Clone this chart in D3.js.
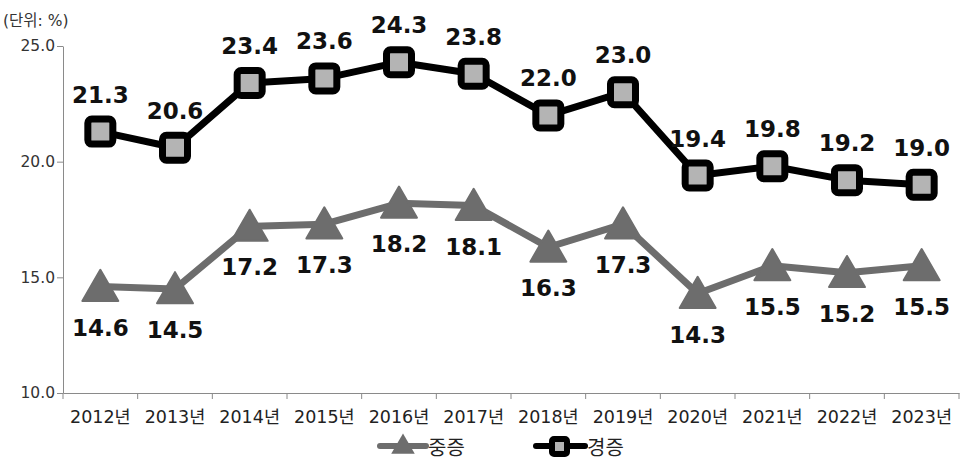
<!DOCTYPE html>
<html><head><meta charset="utf-8">
<script src="https://cdn.jsdelivr.net/npm/d3@7"></script>
<style>body{margin:0;background:#fff}svg{display:block}</style>
</head><body>
<svg id="c" width="961" height="463"></svg>
<script>
const categories = ["2012년","2013년","2014년","2015년","2016년","2017년","2018년","2019년","2020년","2021년","2022년","2023년"];
const severe = [14.6,14.5,17.2,17.3,18.2,18.1,16.3,17.3,14.3,15.5,15.2,15.5];
const mild = [21.3,20.6,23.4,23.6,24.3,23.8,22.0,23.0,19.4,19.8,19.2,19.0];
const yTicks = [10,15,20,25];
const seriesNames = ["중증","경증"];

const svg = d3.select("#c");
const font = "'DejaVu Sans','Noto Sans CJK KR',sans-serif";
const x = d3.scaleBand().domain(categories).range([63,959]);
const y = d3.scaleLinear().domain([10,25]).range([393,46]);
const cx = d => x(d) + x.bandwidth()/2;

// y axis
const ya = svg.append("g").attr("transform","translate(63,0)")
  .call(d3.axisLeft(y).tickValues(yTicks).tickFormat(d3.format(".1f")).tickSize(6).tickSizeOuter(0));
ya.select(".domain").attr("stroke","#8a8a8a");
ya.selectAll(".tick line").attr("stroke","#8a8a8a");
ya.selectAll(".tick text").attr("font-family",font).attr("font-size",15.5).attr("fill","#333").attr("x",-8);

// x axis
const xa = svg.append("g").attr("transform","translate(0,393)")
  .call(d3.axisBottom(x).tickSize(0).tickSizeOuter(0));
xa.select(".domain").attr("stroke","#8a8a8a");
xa.selectAll(".tick text").attr("font-family",font).attr("font-size",17.5).attr("fill","#222").attr("y",30).attr("dy",0);
// boundary ticks
svg.append("g").selectAll("line").data(categories.concat(["end"])).join("line")
  .attr("x1",(d,i)=> i<categories.length ? x(d) : x.range()[1])
  .attr("x2",(d,i)=> i<categories.length ? x(d) : x.range()[1])
  .attr("y1",393).attr("y2",399).attr("stroke","#8a8a8a");

svg.append("text").attr("x",3).attr("y",26).attr("font-family",font).attr("font-size",15.5).attr("fill","#333").text("(단위: %)");

const line = d3.line().x((d,i)=>cx(categories[i])).y(d=>y(d));
const tri = d3.symbol().type(d3.symbolTriangle).size(560);

// severe (gray)
svg.append("path").datum(severe).attr("d",line).attr("fill","none").attr("stroke","#6d6d6d").attr("stroke-width",7).attr("stroke-linejoin","round");
svg.append("g").selectAll("path").data(severe).join("path")
  .attr("d",tri).attr("transform",(d,i)=>`translate(${cx(categories[i])},${y(d)+4})`)
  .attr("fill","#6d6d6d").attr("stroke","#6d6d6d").attr("stroke-width",2).attr("stroke-linejoin","round");
svg.append("g").selectAll("text").data(severe).join("text")
  .attr("x",(d,i)=>cx(categories[i])).attr("y",d=>y(d)+49)
  .attr("text-anchor","middle").attr("font-family",font).attr("font-weight","bold").attr("font-size",23).attr("fill","#111")
  .text(d=>d.toFixed(1));

// mild (black)
svg.append("path").datum(mild).attr("d",line).attr("fill","none").attr("stroke","#000").attr("stroke-width",7).attr("stroke-linejoin","round");
svg.append("g").selectAll("rect").data(mild).join("rect")
  .attr("x",(d,i)=>cx(categories[i])-12.5).attr("y",d=>y(d)-12.5).attr("width",25).attr("height",25)
  .attr("rx",4).attr("fill","#b4b4b4").attr("stroke","#000").attr("stroke-width",7);
svg.append("g").selectAll("text").data(mild).join("text")
  .attr("x",(d,i)=>cx(categories[i])).attr("y",d=>y(d)-29)
  .attr("text-anchor","middle").attr("font-family",font).attr("font-weight","bold").attr("font-size",23).attr("fill","#111")
  .text(d=>d.toFixed(1));

// legend
const lg = svg.append("g");
lg.append("line").attr("x1",380).attr("x2",426).attr("y1",446).attr("y2",446).attr("stroke","#6d6d6d").attr("stroke-width",6).attr("stroke-linecap","round");
lg.append("path").attr("d",d3.symbol().type(d3.symbolTriangle).size(240)).attr("transform","translate(403,447)").attr("fill","#6d6d6d");
lg.append("text").attr("x",428).attr("y",455).attr("font-family",font).attr("font-size",20).attr("fill","#222").text(seriesNames[0]);
lg.append("line").attr("x1",536).attr("x2",585).attr("y1",446).attr("y2",446).attr("stroke","#000").attr("stroke-width",6).attr("stroke-linecap","round");
lg.append("rect").attr("x",552).attr("y",439).attr("width",15).attr("height",15).attr("rx",2).attr("fill","#b4b4b4").attr("stroke","#000").attr("stroke-width",6);
lg.append("text").attr("x",587).attr("y",455).attr("font-family",font).attr("font-size",20).attr("fill","#222").text(seriesNames[1]);
</script>
</body></html>
